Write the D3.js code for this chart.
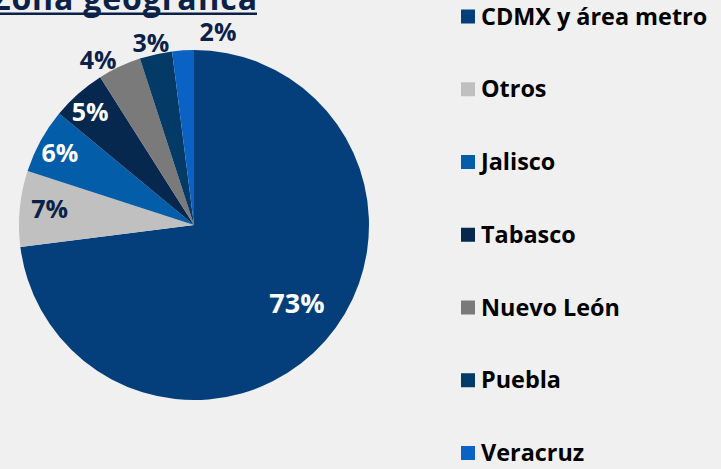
<!DOCTYPE html>
<html>
  <head>
    <meta charset="utf-8">
    <style>
      html, body {
        margin: 0;
        padding: 0;
        background: #f0f0f0;
      }
      body {
        font-family: "Open Sans", sans-serif;
      }
      svg { display: block; }
    </style>
  </head>
  <body>
    <div id="main-viz"></div>

    <script src="https://d3js.org/d3.v7.min.js"></script>
    <script>
      // data
      var regions = ["CDMX y área metro", "Otros", "Jalisco", "Tabasco", "Nuevo León", "Puebla", "Veracruz"];
      var shares = [73, 7, 6, 5, 4, 3, 2];
      var colors = ["#043f7c", "#c0c0c0", "#045da8", "#06284f", "#7a7a7a", "#033a66", "#0a63c4"];

      // label placement: radius as fraction of pie radius, and angle nudge (deg)
      var labelR = [0.74, 0.83, 0.87, 0.875, 1.09, 1.07, 1.11];
      var labelNudge = [-4, 1, -0.5, -1.3, -5, -0.7, 10.7];
      var labelDark = [false, true, false, false, true, true, true];

      var width = 721, height = 469;
      var cx = 194, cy = 225, radius = 175;

      var svg = d3.select("#main-viz")
        .append("svg")
          .attr("width", width)
          .attr("height", height);

      // title (cut off at the top in the original)
      svg.append("text")
        .attr("x", -8)
        .attr("y", 10)
        .attr("textLength", 265)
        .style("font-size", "32px")
        .style("font-weight", "bold")
        .style("fill", "#0b2147")
        .text("Zona geográfica");

      svg.append("rect")
        .attr("x", 0)
        .attr("y", 12.5)
        .attr("width", 257)
        .attr("height", 2.5)
        .style("fill", "#0b2147");

      var pie = d3.pie().sort(null).value(function(d) { return d; });
      var arcs = pie(shares);

      var arc = d3.arc().innerRadius(0).outerRadius(radius);

      var g = svg.append("g")
        .attr("transform", "translate(" + cx + "," + cy + ")");

      g.selectAll("path")
        .data(arcs)
        .enter()
        .append("path")
          .attr("d", arc)
          .style("fill", function(d, i) { return colors[i]; });

      g.selectAll("text")
        .data(arcs)
        .enter()
        .append("text")
          .attr("transform", function(d, i) {
            var a = (d.startAngle + d.endAngle) / 2 + labelNudge[i] * Math.PI / 180;
            var r = radius * labelR[i];
            return "translate(" + (r * Math.sin(a)) + "," + (-r * Math.cos(a)) + ")";
          })
          .attr("dy", "0.36em")
          .style("text-anchor", "middle")
          .style("font-size", function(d, i) { return i === 0 ? "27px" : "25px"; })
          .style("font-weight", "bold")
          .style("fill", function(d, i) { return labelDark[i] ? "#0b2147" : "#ffffff"; })
          .text(function(d) { return d.value + "%"; });

      // legend
      var legendY = d3.scalePoint()
        .domain(regions)
        .range([16.5, 453]);

      var legend = svg.append("g")
        .selectAll("g")
        .data(regions)
        .enter()
        .append("g")
          .attr("transform", function(d) { return "translate(461," + legendY(d) + ")"; });

      legend.append("rect")
        .attr("x", 0)
        .attr("y", -7)
        .attr("width", 14)
        .attr("height", 14)
        .style("fill", function(d, i) { return colors[i]; });

      legend.append("text")
        .attr("x", 20)
        .attr("y", 8)
        .style("font-size", "23.4px")
        .style("font-weight", "bold")
        .style("fill", "#000000")
        .text(function(d) { return d; });
    </script>
  </body>
</html>
